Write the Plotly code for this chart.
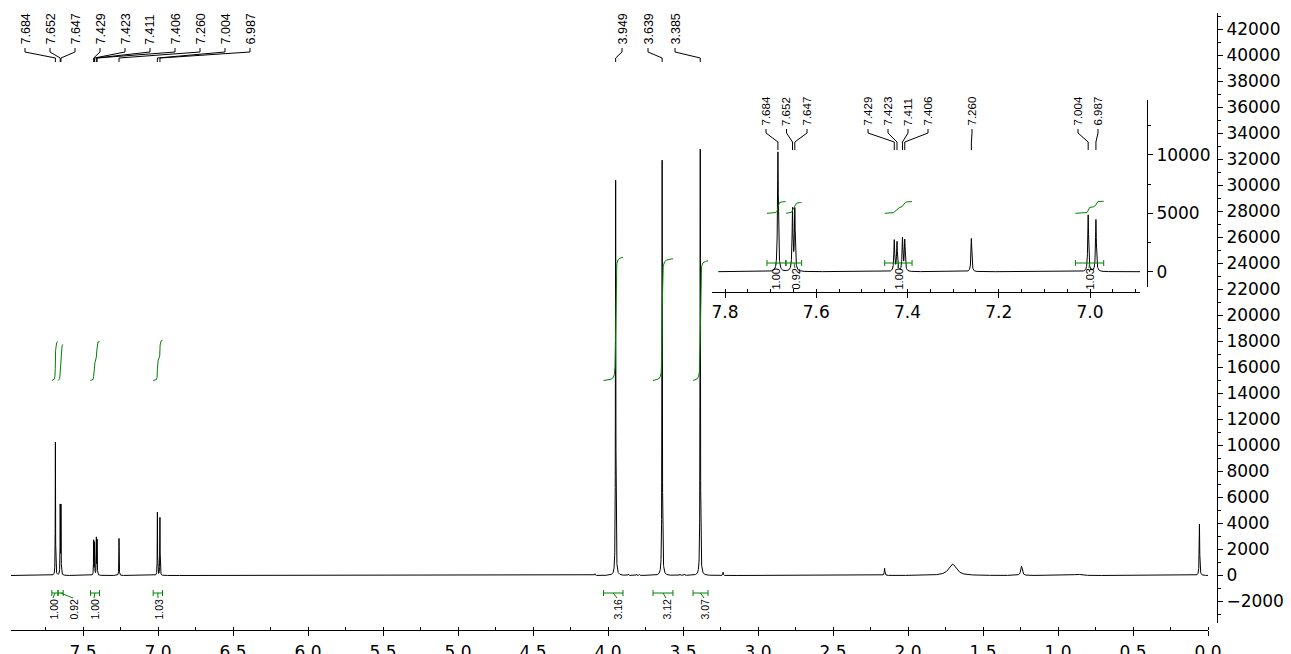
import numpy as np
import plotly.graph_objects as go

# ---------------- data ----------------
# labelled signals: chemical shift (ppm), height, line width (FWHM, ppm)
peak_ppm = [7.684, 7.652, 7.647, 7.429, 7.423, 7.411, 7.406, 7.260, 7.004, 6.987,
            3.949, 3.639, 3.385]
peak_height = [10250, 5250, 5250, 2650, 2480, 2820, 2650, 2850, 4850, 4450,
               30400, 31950, 32800]
peak_fwhm = [0.0022] * 10 + [0.003] * 3

# unlabelled minor signals (impurities, water, grease, TMS)
minor_ppm = [4.087, 3.865, 3.810, 3.790, 3.520, 3.490, 3.233, 2.156, 1.703, 1.243, 0.870, 0.057]
minor_height = [130, 100, 80, 80, 100, 100, 250, 550, 880, 700, 100, 3950]
minor_fwhm = [0.004, 0.004, 0.004, 0.004, 0.004, 0.004, 0.003, 0.005, 0.06, 0.012, 0.05, 0.004]

# integration regions (ppm, from high to low) and normalised integrals
integral_ranges = [(7.708, 7.667), (7.666, 7.632), (7.450, 7.390), (7.032, 6.970),
                   (4.030, 3.900), (3.700, 3.567), (3.433, 3.333)]
integral_values = [1.00, 0.92, 1.00, 1.03, 3.16, 3.12, 3.07]

# ---------------- geometry (pixels) ----------------
FIG_W, FIG_H = 1291, 654
L, R, T, B = 11, 1217, 13, 630
W, H = R - L, B - T


def fx(px):
    return (px - L) / W


def fy(py):
    return (B - py) / H


# main axes pixel <-> data
def ppm_main(px):
    return (1208 - px) / 150.0


def int_main(py):
    return (575.5 - py) * 1000 / 13.0


# inset axes pixel <-> data
def ppm_inset(px):
    return 7.8 - (px - 725) / 456.25


def int_inset(py):
    return (271.7 - py) * 5000 / 58.4


all_ppm = peak_ppm + minor_ppm
all_h = peak_height + minor_height
all_w = peak_fwhm + minor_fwhm


def spectrum(x):
    y = np.zeros_like(x)
    for c, h, w in zip(all_ppm, all_h, all_w):
        y += h / (1 + ((x - c) / (w / 2)) ** 2)
    return y


def grid(lo, hi, step):
    g = np.arange(lo, hi, step)
    extra = [c + d for c in all_ppm for d in np.linspace(-0.004, 0.004, 41)]
    g = np.unique(np.concatenate([g, np.array(all_ppm), np.array(extra)]))
    g = g[(g >= lo) & (g <= hi)]
    return g[::-1]


def integral_curve(rng, value, base, scale):
    hi, lo = rng
    xs = np.linspace(hi, lo, 2000)
    ys = spectrum(xs)
    cum = np.concatenate([[0], np.cumsum((ys[1:] + ys[:-1]) / 2 * np.abs(np.diff(xs)))])
    cum = cum / cum[-1]
    return xs, base + scale * value * cum


GREEN = '#008000'
TICK_FONT = dict(family='DejaVu Sans', size=17, color='black')
LABEL_FAMILY = 'Liberation Sans, Arial, sans-serif'

fig = go.Figure()

# main spectrum
xm = grid(-0.02, 7.99, 0.0005)
fig.add_trace(go.Scatter(x=xm, y=spectrum(xm), mode='lines',
                         line=dict(color='black', width=1), xaxis='x', yaxis='y',
                         hoverinfo='skip', showlegend=False))

# inset spectrum (aromatic region)
xi = grid(6.89, 7.815, 0.0002)
fig.add_trace(go.Scatter(x=xi, y=spectrum(xi), mode='lines',
                         line=dict(color='black', width=1), xaxis='x2', yaxis='y2',
                         hoverinfo='skip', showlegend=False))

# integral curves
for rng, val in zip(integral_ranges, integral_values):
    xs, ys = integral_curve(rng, val, 15000, 3000)
    fig.add_trace(go.Scatter(x=xs, y=ys, mode='lines', line=dict(color=GREEN, width=1),
                             xaxis='x', yaxis='y', hoverinfo='skip', showlegend=False))
for rng, val in zip(integral_ranges[:4], integral_values[:4]):
    xs, ys = integral_curve(rng, val, 5000, 1000)
    fig.add_trace(go.Scatter(x=xs, y=ys, mode='lines', line=dict(color=GREEN, width=1),
                             xaxis='x2', yaxis='y2', hoverinfo='skip', showlegend=False))

shapes = []
annotations = []


def peak_labels(ppms, label_px, text_bottom, y_stub0, y_stub1, y_diag, y_end,
                xref, to_ppm, size):
    for p, lx in zip(ppms, label_px):
        annotations.append(dict(text=f'{p:.3f}', x=fx(lx), y=fy(text_bottom),
                                xref='paper', yref='paper', xanchor='center',
                                yanchor='bottom', textangle=-90, showarrow=False,
                                borderpad=0,
                                font=dict(family=LABEL_FAMILY, size=size, color='black')))
        lp = to_ppm(lx)
        path = (f'M {lp},{fy(y_stub0)} L {lp},{fy(y_stub1)} '
                f'L {p},{fy(y_diag)} L {p},{fy(y_end)}')
        shapes.append(dict(type='path', path=path, xref=xref, yref='paper',
                           line=dict(color='black', width=1)))


# main peak labels
main_label_px = [25, 50, 75, 100, 125, 150, 175, 200, 225, 250, 622, 648, 675]
peak_labels(peak_ppm, main_label_px, 46, 48, 52, 58, 62, 'x', ppm_main, 12.5)

# inset peak labels
inset_label_px = [766, 786.5, 807, 868, 888, 908, 928, 972, 1078, 1098]
peak_labels(peak_ppm[:10], inset_label_px, 127, 129, 133, 142, 150, 'x2', ppm_inset, 11.5)


def integral_marks(ranges, values, label_px, y_br, y_lab, xref, to_ppm, size):
    cap = 3
    for (hi, lo), v, lx in zip(ranges, values, label_px):
        path = (f'M {hi},{fy(y_br - cap)} L {hi},{fy(y_br + cap)} '
                f'M {hi},{fy(y_br)} L {lo},{fy(y_br)} '
                f'M {lo},{fy(y_br - cap)} L {lo},{fy(y_br + cap)} '
                f'M {(hi + lo) / 2},{fy(y_br)} L {to_ppm(lx)},{fy(y_lab)}')
        shapes.append(dict(type='path', path=path, xref=xref, yref='paper',
                           line=dict(color=GREEN, width=1)))
        annotations.append(dict(text=f'{v:.2f}', x=fx(lx), y=fy(y_lab),
                                xref='paper', yref='paper', xanchor='center',
                                yanchor='top', textangle=-90, showarrow=False,
                                borderpad=0,
                                font=dict(family=LABEL_FAMILY, size=size, color='black')))


integral_marks(integral_ranges, integral_values, [53, 73, 94, 158, 617, 666, 704],
               593, 598, 'x', ppm_main, 10.5)
integral_marks(integral_ranges[:4], integral_values[:4], [775, 795, 898, 1089],
               263, 268, 'x2', ppm_inset, 11)

axis_base = dict(showline=True, linecolor='black', linewidth=1, showgrid=False,
                 zeroline=False, ticks='outside', ticklen=5, tickcolor='black',
                 tickwidth=1, tickfont=TICK_FONT, tickangle=0, fixedrange=True,
                 automargin=False)

fig.update_layout(
    width=FIG_W, height=FIG_H,
    margin=dict(l=L, r=FIG_W - R, t=T, b=FIG_H - B, pad=0, autoexpand=False),
    paper_bgcolor='white', plot_bgcolor='white',
    showlegend=False,
    xaxis=dict(axis_base, domain=[0, fx(1208)], range=[ppm_main(L), ppm_main(1208)],
               anchor='free', position=0, tickmode='linear', tick0=0, dtick=0.5,
               tickformat='.1f', ticklabelstandoff=2,
               minor=dict(ticks='inside', ticklen=3, tick0=0, dtick=0.25, tickcolor='black')),
    yaxis=dict(axis_base, domain=[fy(623), 1], range=[int_main(623), int_main(T)],
               side='right', anchor='free', position=1, tickmode='linear', tick0=0,
               dtick=2000, tickformat='d',
               minor=dict(ticks='outside', ticklen=3, tick0=0, dtick=1000, tickcolor='black')),
    xaxis2=dict(axis_base, domain=[fx(712), fx(1140)], range=[ppm_inset(712), ppm_inset(1140)],
                anchor='free', position=fy(291.7), tickmode='linear', tick0=0, dtick=0.2,
                tickformat='.1f',
                minor=dict(ticks='inside', ticklen=3, tick0=0, dtick=0.05, tickcolor='black')),
    yaxis2=dict(axis_base, domain=[fy(287.3), fy(100)], range=[int_inset(287.3), int_inset(100)],
                side='right', anchor='free', position=fx(1147), tickmode='linear', tick0=0,
                dtick=5000, tickformat='d',
                minor=dict(ticks='outside', ticklen=3, tick0=0, dtick=2500, tickcolor='black')),
    shapes=shapes,
    annotations=annotations,
)

fig.write_html('out.html', config={'displayModeBar': False})
